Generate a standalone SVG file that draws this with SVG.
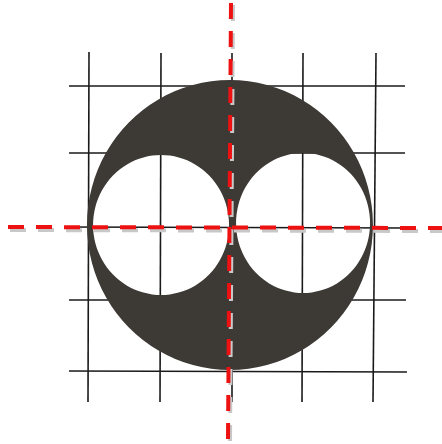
<svg xmlns="http://www.w3.org/2000/svg" width="442" height="444" viewBox="0 0 442 444">
<style>
.grid line{stroke:#1a1a1a;stroke-width:1.6}
.axis{stroke:#ee1111;stroke-width:4;stroke-dasharray:16 12;fill:none}
.shadow{stroke:#c8c8c8;stroke-width:4;stroke-dasharray:16 12;fill:none}
</style>
<rect width="442" height="444" fill="#ffffff"/>
<g id="grid" class="grid">
<line x1="89" y1="52" x2="88" y2="402"/>
<line x1="161" y1="53" x2="160" y2="402"/>
<line x1="232" y1="53" x2="232" y2="402"/>
<line x1="303" y1="53" x2="302" y2="402"/>
<line x1="376" y1="53" x2="373" y2="402"/>
<line x1="69" y1="86" x2="405" y2="86"/>
<line x1="69" y1="153" x2="405" y2="153"/>
<line x1="69" y1="227" x2="405" y2="228"/>
<line x1="69" y1="300" x2="406" y2="300"/>
<line x1="69" y1="371" x2="407" y2="372"/>
</g>
<g id="disc">
<path fill="#3d3935" fill-rule="evenodd" d="M230,80 A143,145 0 1,1 229.9,80 Z M161,155 A68,70 0 1,0 161.1,155 Z M303,153 A67,70 0 1,0 303.1,153 Z"/>
</g>
<g id="axes">
<line class="shadow" x1="10" y1="230" x2="442" y2="231"/>
<line class="shadow" x1="233" y1="5" x2="230" y2="442"/>
<line class="axis" x1="8" y1="227" x2="442" y2="228"/>
<line class="axis" x1="231" y1="3" x2="228" y2="440"/>
</g>
</svg>
